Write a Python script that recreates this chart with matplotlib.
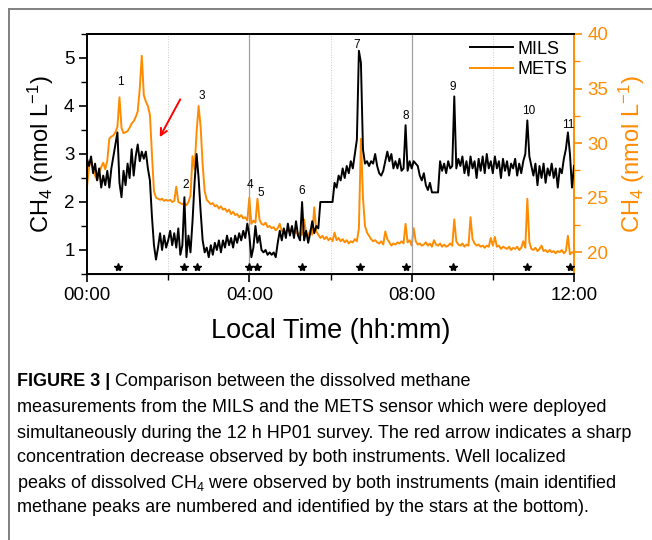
import numpy as np
import matplotlib
matplotlib.use("Agg")
import matplotlib.pyplot as plt
from matplotlib import font_manager
from matplotlib.ticker import MultipleLocator, FixedLocator

plt.rcParams['font.family'] = ['Liberation Sans', 'DejaVu Sans']
plt.rcParams['mathtext.fontset'] = 'custom'
plt.rcParams['mathtext.rm'] = 'Liberation Sans'
plt.rcParams['mathtext.it'] = 'Liberation Sans'

# caption font: narrow if available
names = {f.name for f in font_manager.fontManager.ttflist}
cap_font = 'Liberation Sans Narrow' if 'Liberation Sans Narrow' in names else 'Liberation Sans'

# time axis (hours), 3 min step
t = np.arange(0, 241) * 0.05

# MILS, nmol/L (left axis), one row per hour
mils = [
    2.9, 2.75, 2.95, 2.6, 2.8, 2.45, 2.7, 2.3, 2.55, 2.35, 2.65, 2.3, 2.7, 2.95, 3.2, 3.45, 2.4, 2.1, 2.65, 2.35,
    2.8, 2.5, 3.1, 2.55, 2.95, 3.2, 2.85, 3.05, 2.9, 3.05, 2.7, 2.45, 1.7, 1.1, 0.8, 1.05, 1.35, 1.0, 1.3, 1.05,
    1.2, 1.4, 1.1, 1.35, 1.05, 1.45, 0.9, 1.1, 2.1, 0.85, 1.3, 0.95, 1.6, 2.4, 3.0, 2.5, 1.8, 1.2, 0.95, 1.05,
    0.85, 1.1, 0.9, 1.15, 1.0, 1.2, 0.95, 1.2, 1.05, 1.3, 1.1, 1.25, 1.05, 1.3, 1.15, 1.35, 1.2, 1.4, 1.25, 1.55,
    1.3, 0.85, 1.05, 1.5, 1.15, 1.3, 1.0, 0.95, 1.0, 0.9, 0.95, 0.9, 0.95, 0.85, 1.15, 1.4, 1.2, 1.45, 1.25, 1.55,
    1.3, 1.5, 1.25, 1.6, 1.3, 1.2, 2.0, 1.2, 1.4, 1.15, 1.35, 1.6, 1.35, 1.5, 1.45, 2.0, 2.0, 2.0, 2.0, 2.0,
    2.0, 2.0, 2.4, 2.3, 2.55, 2.45, 2.7, 2.5, 2.75, 2.6, 2.85, 2.7, 3.0, 3.3, 5.15, 4.9, 3.1, 2.8, 2.85, 2.75,
    2.85, 2.8, 3.0, 2.75, 2.6, 2.55, 2.65, 2.85, 3.05, 2.85, 3.0, 2.7, 2.85, 2.7, 2.9, 2.65, 2.7, 3.6, 2.65, 2.85,
    2.7, 2.85, 2.8, 2.75, 2.55, 2.45, 2.6, 2.35, 2.25, 2.4, 2.2, 2.2, 2.2, 2.2, 2.85, 2.65, 2.8, 2.6, 2.85, 2.7,
    2.75, 4.2, 2.7, 2.9, 2.75, 2.95, 2.6, 2.85, 2.55, 2.95, 2.7, 2.85, 2.5, 2.9, 2.65, 2.95, 2.6, 3.0, 2.7, 2.85,
    2.6, 2.95, 2.7, 2.85, 2.5, 2.9, 2.65, 2.85, 2.55, 2.8, 2.7, 2.9, 2.55, 2.8, 2.6, 2.85, 3.0, 3.7, 2.95, 2.75,
    2.55, 2.8, 2.35, 2.75, 2.5, 2.8, 2.4, 2.7, 2.55, 2.8, 2.5, 2.7, 2.3, 2.7, 2.6, 2.9, 3.1, 3.45, 3.0, 2.3,
    2.75,
]

# METS, nmol/L (right axis)
mets = [
    26.0, 27.8, 28.4, 27.6, 27.0, 26.6, 27.3, 27.8, 28.2, 27.6, 28.4, 30.4, 30.6, 30.7, 31.0, 31.5, 34.2, 31.4, 30.9, 31.0,
    31.1, 31.4, 31.8, 32.0, 32.4, 32.9, 35.0, 38.0, 34.4, 33.8, 33.4, 32.6, 29.0, 25.6, 25.0, 24.9, 24.8, 24.9, 24.7, 24.8,
    24.7, 24.8, 24.6, 24.7, 26.0, 24.6, 24.5, 24.4, 24.5, 24.3, 24.6, 25.2, 28.8, 27.6, 31.0, 33.4, 31.5, 28.0, 25.6, 24.8,
    24.6, 24.4, 24.5, 24.2, 24.3, 24.0, 24.2, 23.9, 24.0, 23.7, 23.9, 23.5, 23.7, 23.4, 23.5, 23.2, 23.4, 23.1, 23.2, 22.9,
    25.0, 22.6, 22.9, 22.7, 24.9, 23.0, 22.6, 22.5, 22.7, 22.3, 22.4, 22.2, 22.3, 22.0, 22.2, 22.6, 21.9, 22.1, 21.8, 22.0,
    21.8, 22.2, 21.7, 21.9, 21.6, 21.8, 21.6, 23.0, 21.7, 21.5, 22.0, 21.6, 24.1, 21.9, 21.6, 21.3, 21.5, 21.2, 21.4, 21.1,
    21.3, 21.0, 21.8, 21.1, 21.3, 21.0, 21.2, 20.9, 21.1, 20.8, 21.0, 20.9, 21.2, 21.0, 22.2, 30.4, 25.0, 22.4, 21.8, 21.5,
    21.2, 21.0, 21.1, 20.9, 20.8, 21.0, 20.7, 21.9, 21.2, 20.9, 20.6, 20.8, 20.7, 20.9, 20.8, 21.0, 20.8, 22.6, 20.9, 21.1,
    20.6, 22.2, 21.0, 20.7, 20.8, 20.6, 20.7, 20.9, 20.6, 20.8, 20.5, 21.1, 20.7, 20.6, 20.8, 20.5, 20.7, 20.5, 20.6, 20.8,
    20.6, 23.0, 21.0, 20.7, 20.6, 20.8, 20.5, 20.7, 20.6, 23.2, 21.2, 20.8, 20.6, 20.7, 20.5, 20.6, 20.4, 20.6, 20.5, 21.3,
    20.6, 21.4, 20.5, 20.6, 20.3, 20.5, 20.4, 20.3, 20.5, 20.2, 20.4, 20.3, 20.5, 20.2, 20.4, 21.0, 20.4, 24.9, 20.9, 20.3,
    20.2, 20.4, 20.1, 20.3, 20.6, 20.1, 20.2, 20.0, 20.2, 20.0, 20.1, 19.9, 20.1, 20.0, 20.2, 19.9, 20.1, 21.5, 19.8, 20.0,
    19.9,
]

# peak labels and stars
peak_names = ['1', '2', '3', '4', '5', '6', '7', '8', '9', '10', '11']
peak_lx = [0.82, 2.44, 2.82, 4.02, 4.29, 5.30, 6.65, 7.85, 9.02, 10.88, 11.85]
peak_ly = [4.51, 2.35, 4.20, 2.35, 2.19, 2.23, 5.28, 3.79, 4.40, 3.90, 3.61]
star_x = [0.76, 2.39, 2.72, 3.98, 4.18, 5.30, 6.73, 7.85, 9.02, 10.83, 11.89]
star_y = 0.65

orange = '#ff8c00'

fig = plt.figure(figsize=(6.52, 5.40), dpi=100)

# outer frame lines (top and left)
fig.add_artist(plt.Line2D([9 / 652, 9 / 652], [0, 1 - 9 / 540], color='#808080', lw=1.4, transform=fig.transFigure))
fig.add_artist(plt.Line2D([9 / 652, 1], [1 - 9 / 540, 1 - 9 / 540], color='#808080', lw=1.4, transform=fig.transFigure))

ax = fig.add_axes([87 / 652, 1 - 274 / 540, 487 / 652, 240 / 540])
ax2 = ax.twinx()

for g in [4, 8]:
    ax.axvline(g, color='#a0a0a0', lw=0.9, zorder=0)
for g in [2, 6, 10]:
    ax.axvline(g, color='#c8c8c8', lw=0.7, ls=':', zorder=0)

ax2.plot(t, mets, color=orange, lw=1.4, label='METS')
ax.plot(t, mils, color='black', lw=1.4, label='MILS')
ax.set_zorder(ax2.get_zorder() + 1)
ax.patch.set_visible(False)

ax.plot(star_x, [star_y] * len(star_x), ls='none', marker='*', ms=6, color='black')
for name, x, y in zip(peak_names, peak_lx, peak_ly):
    ax.text(x, y, name, ha='center', va='center', fontsize=8.5)

ax.annotate('', xy=(1.76, 3.30), xytext=(2.33, 4.19),
            arrowprops=dict(arrowstyle='->', color='red', lw=1.4, mutation_scale=12))

ax.set_xlim(0, 12)
ax.set_ylim(0.5, 5.5)
ax2.set_ylim(18, 40)

ax.xaxis.set_major_locator(FixedLocator([0, 4, 8, 12]))
ax.xaxis.set_minor_locator(FixedLocator([2, 6, 10]))
ax.set_xticklabels(['00:00', '04:00', '08:00', '12:00'])
ax.yaxis.set_major_locator(MultipleLocator(1))
ax.yaxis.set_minor_locator(MultipleLocator(0.5))
ax2.yaxis.set_major_locator(MultipleLocator(5))
ax2.yaxis.set_minor_locator(MultipleLocator(2.5))

ax.tick_params(axis='both', which='major', direction='out', length=6, width=1.2, labelsize=13.5)
ax.tick_params(axis='both', which='minor', direction='out', length=4, width=1.0)
ax.tick_params(axis='y', pad=3)
ax2.tick_params(axis='y', which='major', direction='out', length=6, width=1.2, labelsize=13.5,
                colors=orange)
ax2.tick_params(axis='y', which='minor', direction='out', length=4, width=1.0, colors=orange)

for s in ['left', 'bottom', 'top']:
    ax.spines[s].set_linewidth(1.4)
ax.spines['right'].set_visible(False)
ax2.spines['right'].set_color(orange)
ax2.spines['right'].set_linewidth(1.4)
ax2.spines['left'].set_visible(False)
ax2.spines['top'].set_linewidth(1.4)

ax.set_ylabel('CH$_4$ (nmol L$^{-1}$)', fontsize=17, labelpad=6)
ax2.set_ylabel('CH$_4$ (nmol L$^{-1}$)', fontsize=17, color=orange, labelpad=6)
ax.set_xlabel('Local Time (hh:mm)', fontsize=19.5, labelpad=10)

h1, l1 = ax.get_legend_handles_labels()
h2, l2 = ax2.get_legend_handles_labels()
ax.legend(h1 + h2, l1 + l2, loc='upper right', frameon=False, fontsize=13,
          handlelength=2.4, handletextpad=0.2, labelspacing=0.2,
          borderaxespad=0.1, bbox_to_anchor=(1.004, 1.01))

# caption
cap_lines = [
    'Comparison between the dissolved methane',
    'measurements from the MILS and the METS sensor which were deployed',
    'simultaneously during the 12 h HP01 survey. The red arrow indicates a sharp',
    'concentration decrease observed by both instruments. Well localized',
    'peaks of dissolved CH$_4$ were observed by both instruments (main identified',
    'methane peaks are numbered and identified by the stars at the bottom).',
]
cap_y = [382, 407, 433, 458, 483, 508]
cap_size = 13.0
head = fig.text(17 / 652, 1 - cap_y[0] / 540, 'FIGURE 3 | ', fontsize=cap_size, fontweight='bold',
                family=cap_font, va='center', ha='left')
fig.canvas.draw()
bb = head.get_window_extent().transformed(fig.transFigure.inverted())
fig.text(bb.x1, 1 - cap_y[0] / 540, cap_lines[0], fontsize=cap_size, family=cap_font, va='center', ha='left')
for line, y in zip(cap_lines[1:], cap_y[1:]):
    fig.text(17 / 652, 1 - y / 540, line, fontsize=cap_size, family=cap_font, va='center', ha='left')

fig.savefig('out.png', dpi=100)
